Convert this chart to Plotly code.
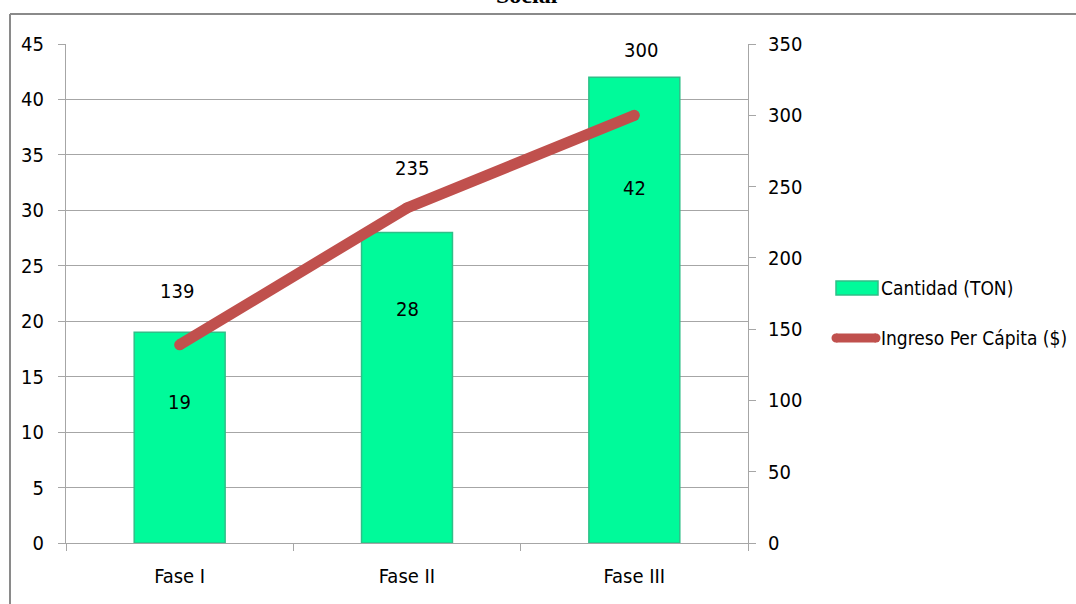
import plotly.graph_objects as go

# Data
fases = ["Fase I", "Fase II", "Fase III"]
cantidad_ton = [19, 28, 42]
ingreso_per_capita = [139, 235, 300]

left_ticks = [0, 5, 10, 15, 20, 25, 30, 35, 40, 45]
right_ticks = [0, 50, 100, 150, 200, 250, 300, 350]

# Layout geometry (pixels)
W, H = 1076, 604
L, R, T, B = 66, 328, 44, 61
PW, PH = W - L - R, H - T - B

def px_x(x):
    return (x - L) / PW

def px_y(y):
    return (H - B - y) / PH

FONT = "Liberation Sans Narrow, DejaVu Sans Condensed, Arial Narrow, sans-serif"
FS = 20
GRID = "#a6a6a6"
BAR = "#00fa9a"
LINE = "#c0504d"

fig = go.Figure()

fig.add_trace(go.Bar(
    x=fases, y=cantidad_ton, name="Cantidad (TON)",
    width=0.4,
    marker=dict(color=BAR, line=dict(color="#2fbf88", width=1.5)),
    yaxis="y", hoverinfo="x+y",
))

fig.add_trace(go.Scatter(
    x=fases, y=ingreso_per_capita, name="Ingreso Per Cápita ($)",
    mode="lines+markers",
    line=dict(color=LINE, width=11),
    marker=dict(color=LINE, size=11),
    yaxis="y2",
))

# Value labels for bars (placed inside the bar)
bar_label_shift = [-70, -76, -111]
for f, v, s in zip(fases, cantidad_ton, bar_label_shift):
    fig.add_annotation(x=f, y=v, yref="y", text=str(v), showarrow=False,
                       yshift=s, font=dict(family=FONT, size=FS, color="#000"))

# Value labels for the line (placed above the points)
line_label_shift = [(-3, 54), (5, 40), (7, 65)]
for f, v, (dx, dy) in zip(fases, ingreso_per_capita, line_label_shift):
    fig.add_annotation(x=f, y=v, yref="y2", text=str(v), showarrow=False,
                       xshift=dx, yshift=dy, font=dict(family=FONT, size=FS, color="#000"))

# Title (runs off the top of the page)
fig.add_annotation(xref="paper", yref="paper", x=px_x(560), y=1, yanchor="bottom",
                   yshift=34, text="<b>Social</b>", showarrow=False,
                   font=dict(family="Liberation Serif, Times New Roman, serif", size=24, color="#000"))

# Chart frame
fig.add_shape(type="line", xref="paper", yref="paper",
              x0=px_x(10), x1=px_x(W + 5), y0=px_y(14), y1=px_y(14),
              line=dict(color="#8a8a8a", width=2))
fig.add_shape(type="line", xref="paper", yref="paper",
              x0=px_x(10), x1=px_x(10), y0=px_y(14), y1=px_y(H + 5),
              line=dict(color="#8a8a8a", width=2))

# Custom legend
LEG_FS = 19
fig.add_shape(type="rect", xref="paper", yref="paper",
              x0=px_x(836), x1=px_x(878), y0=px_y(281), y1=px_y(295),
              fillcolor=BAR, line=dict(color="#2fbf88", width=1.5))
fig.add_shape(type="line", xref="paper", yref="paper",
              x0=px_x(836), x1=px_x(876), y0=px_y(338), y1=px_y(338),
              line=dict(color=LINE, width=9))
for xc in (836, 876):
    fig.add_shape(type="circle", xref="paper", yref="paper",
                  x0=px_x(xc - 4.5), x1=px_x(xc + 4.5), y0=px_y(333.5), y1=px_y(342.5),
                  fillcolor=LINE, line=dict(width=0))
fig.add_annotation(xref="paper", yref="paper", x=px_x(879), y=px_y(288), xanchor="left",
                   text="Cantidad (TON)", showarrow=False,
                   font=dict(family=FONT, size=LEG_FS, color="#000"))
fig.add_annotation(xref="paper", yref="paper", x=px_x(879), y=px_y(338), xanchor="left",
                   text="Ingreso Per Cápita ($)", showarrow=False,
                   font=dict(family=FONT, size=LEG_FS, color="#000"))

fig.update_layout(
    width=W, height=H,
    margin=dict(l=L, r=R, t=T, b=B),
    paper_bgcolor="white", plot_bgcolor="white",
    showlegend=False,
    font=dict(family=FONT, size=FS, color="#000"),
    xaxis=dict(
        type="category", tickson="boundaries", ticks="outside", ticklen=7,
        tickcolor=GRID, showline=True, linecolor=GRID, linewidth=1,
        showgrid=False, ticklabelstandoff=15, range=[-0.5, 2.5],
        tickfont=dict(family=FONT, size=FS),
    ),
    yaxis=dict(
        range=[0, 45], tickvals=left_ticks, ticks="outside", ticklen=7,
        tickcolor=GRID, showline=True, linecolor=GRID, linewidth=1,
        showgrid=True, gridcolor=GRID, gridwidth=1, zeroline=False,
        ticklabelstandoff=10, tickfont=dict(family=FONT, size=FS),
    ),
    yaxis2=dict(
        range=[0, 350], tickvals=right_ticks, overlaying="y", side="right",
        ticks="outside", ticklen=7, tickcolor=GRID, showline=True,
        linecolor=GRID, linewidth=1, showgrid=False, zeroline=False,
        ticklabelstandoff=8, tickfont=dict(family=FONT, size=FS),
    ),
)

fig.write_html("out.html")
